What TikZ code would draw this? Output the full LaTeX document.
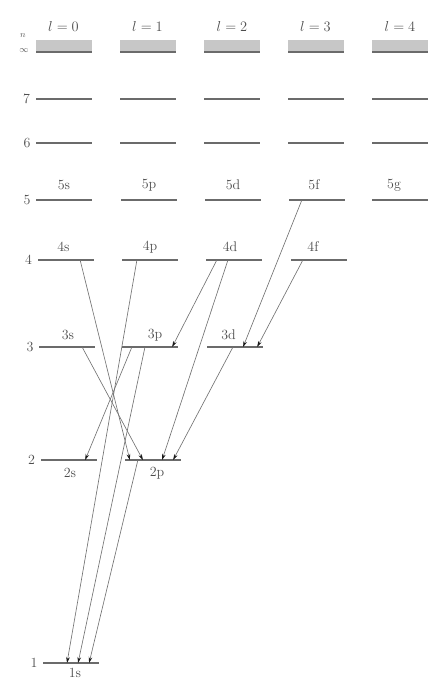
\documentclass[tikz,border=0pt]{standalone}
\usetikzlibrary{arrows.meta,calc}
\begin{document}
\begin{tikzpicture}[x=1pt,y=-1pt,
  lvl/.style={rectangle,inner sep=0pt,minimum width=56pt,minimum height=2.2pt,fill=black!58,draw=none},
  band/.style={rectangle,inner sep=0pt,minimum width=56pt,minimum height=11pt,fill=black!22},
  txt/.style={text=black!70,font=\fontsize{14}{16}\selectfont,inner sep=0pt},
  num/.style={txt,anchor=east},
  small/.style={text=black!65,font=\fontsize{9}{10}\selectfont,inner sep=0pt},
  tr/.style={draw=black!55,line width=0.65pt,-{Stealth[length=6pt,width=3.6pt,color=black!90]}}]
\useasboundingbox (0,0) rectangle (438,686);
% n = infinity
\foreach \i/\x in {0/63.5,1/147.5,2/232,3/315.5,4/400}{
  \node[band] (b\i) at (\x,45.5) {};
  \node[lvl] (inf\i) at (\x,52) {};
  \node[txt] (l\i) at (\x,26) {$l=\i$};
}
\node[small] (nlab) at (23,36) {$n$};
\node[small] (inflab) at (24,51) {$\infty$};
% n = 7, 6
\foreach \i/\x in {0/63.5,1/147.5,2/231.5,3/315.5,4/400}{
  \node[lvl] (r7\i) at (\x,99) {};
}
\foreach \i/\x in {0/64,1/148,2/232,3/316,4/400}{
  \node[lvl] (r6\i) at (\x,143) {};
}
\node[num] (n7) at ($(r70.west)+(-5,0)$) {7};
\node[num] (n6) at ($(r60.west)+(-5,0)$) {6};
% n = 5
\node[lvl] (5s) at (64,200) {};
\node[lvl] (5p) at (149,200) {};
\node[lvl] (5d) at (233,200) {};
\node[lvl] (5f) at (317,200) {};
\node[lvl] (5g) at (400,200) {};
\node[num] (n5) at ($(5s.west)+(-5,0)$) {5};
\node[txt] (t5s) at ($(5s.center)+(0,-15)$) {5s};
\node[txt] (t5p) at ($(5p.center)+(0,-15)$) {5p};
\node[txt] (t5d) at ($(5d.center)+(0,-15)$) {5d};
\node[txt] (t5f) at ($(5f.center)+(-3,-15)$) {5f};
\node[txt] (t5g) at ($(5g.center)+(-6,-15)$) {5g};
% n = 4
\node[lvl] (4s) at (65.5,260) {};
\node[lvl] (4p) at (150,260) {};
\node[lvl] (4d) at (234,260) {};
\node[lvl] (4f) at (319,260) {};
\node[num] (n4) at ($(4s.west)+(-5,0)$) {4};
\node[txt] (t4s) at ($(4s.center)+(-2,-13)$) {4s};
\node[txt] (t4p) at ($(4p.center)+(0,-13)$) {4p};
\node[txt] (t4d) at ($(4d.center)+(-4,-13)$) {4d};
\node[txt] (t4f) at ($(4f.center)+(-6,-13)$) {4f};
% n = 3
\node[lvl] (3s) at (67,347) {};
\node[lvl] (3p) at (150,347) {};
\node[lvl] (3d) at (234.5,347) {};
\node[num] (n3) at ($(3s.west)+(-5,0)$) {3};
\node[txt] (t3s) at ($(3s.center)+(1,-12)$) {3s};
\node[txt] (t3p) at ($(3p.center)+(5,-12)$) {3p};
\node[txt] (t3d) at ($(3d.center)+(-6,-12)$) {3d};
% n = 2
\node[lvl] (2s) at (68.5,460) {};
\node[lvl] (2p) at (152.5,460) {};
\node[num] (n2) at ($(2s.west)+(-5,0)$) {2};
\node[txt] (t2s) at ($(2s.center)+(1.5,13)$) {2s};
\node[txt] (t2p) at ($(2p.center)+(4.5,13)$) {2p};
% n = 1
\node[lvl] (1s) at (71,663) {};
\node[num] (n1) at ($(1s.west)+(-5,0)$) {1};
\node[txt] (t1s) at ($(1s.center)+(4,10)$) {1s};
% transitions
\draw[tr] ($(4s.west)!0.759!(4s.east)$) -- ($(2p.west)!0.098!(2p.east)$);
\draw[tr] ($(3s.west)!0.768!(3s.east)$) -- ($(2p.west)!0.33!(2p.east)$);
\draw[tr] ($(4d.west)!0.393!(4d.east)$) -- ($(2p.west)!0.67!(2p.east)$);
\draw[tr] ($(3d.west)!0.473!(3d.east)$) -- ($(2p.west)!0.866!(2p.east)$);
\draw[tr] ($(4d.west)!0.196!(4d.east)$) -- ($(3p.west)!0.893!(3p.east)$);
\draw[tr] ($(5f.west)!0.232!(5f.east)$) -- ($(3d.west)!0.652!(3d.east)$);
\draw[tr] ($(4f.west)!0.214!(4f.east)$) -- ($(3d.west)!0.902!(3d.east)$);
\draw[tr] ($(3p.west)!0.179!(3p.east)$) -- ($(2s.west)!0.795!(2s.east)$);
\draw[tr] ($(4p.west)!0.268!(4p.east)$) -- ($(1s.west)!0.429!(1s.east)$);
\draw[tr] ($(3p.west)!0.411!(3p.east)$) -- ($(1s.west)!0.625!(1s.east)$);
\draw[tr] ($(2p.west)!0.241!(2p.east)$) -- ($(1s.west)!0.821!(1s.east)$);
\end{tikzpicture}
\end{document}
